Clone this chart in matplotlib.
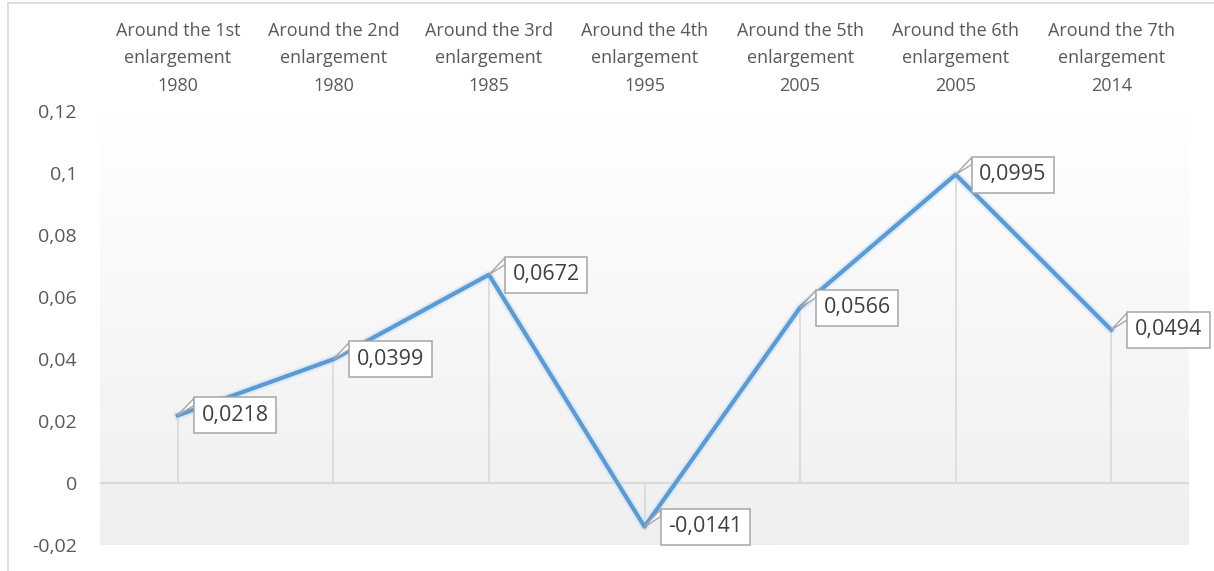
import numpy as np
import matplotlib
matplotlib.use("Agg")
import matplotlib.pyplot as plt
from matplotlib.patches import Polygon
from matplotlib.lines import Line2D
import matplotlib.transforms as mtransforms

# Data
categories = [
    "Around the 1st\nenlargement\n1980",
    "Around the 2nd\nenlargement\n1980",
    "Around the 3rd\nenlargement\n1985",
    "Around the 4th\nenlargement\n1995",
    "Around the 5th\nenlargement\n2005",
    "Around the 6th\nenlargement\n2005",
    "Around the 7th\nenlargement\n2014",
]
values = [0.0218, 0.0399, 0.0672, -0.0141, 0.0566, 0.0995, 0.0494]
y_ticks = [-0.02, 0, 0.02, 0.04, 0.06, 0.08, 0.1, 0.12]
y_tick_labels = ["-0,02", "0", "0,02", "0,04", "0,06", "0,08", "0,1", "0,12"]

plt.rcParams["font.family"] = ["Open Sans", "DejaVu Sans"]
TXT = "#595959"
LINE = "#5b9bd5"
GRID = "#d9d9d9"

W, H = 1214, 571
fig = plt.figure(figsize=(W / 100, H / 100), dpi=100)
ax = fig.add_axes([100 / W, (H - 545) / H, (1189 - 100) / W, (545 - 111) / H])

x = np.arange(len(values))
ax.set_xlim(-0.5, len(values) - 0.5)
ax.set_ylim(-0.02, 0.12)

# gradient fill of the plot area, white on top to light grey at the bottom
grad = np.linspace(0, 1, 256).reshape(-1, 1)
ax.imshow(grad, extent=[0, 1, 0, 1], transform=ax.transAxes, aspect="auto",
          cmap=matplotlib.colors.LinearSegmentedColormap.from_list("g", ["#efefef", "#ffffff"]),
          origin="lower", zorder=0)

for s in ax.spines.values():
    s.set_visible(False)
ax.axhline(0, color=GRID, lw=1.5, zorder=1)

# drop lines
for xi, v in zip(x, values):
    ax.plot([xi, xi], [0, v], color=GRID, lw=1.2, zorder=1)

# series with a soft glow
ax.plot(x, values, color="#cfe2f3", lw=6, alpha=0.6, zorder=2)
ax.plot(x, values, color=LINE, lw=3, zorder=3)

ax.set_yticks(y_ticks)
ax.set_yticklabels(y_tick_labels)
ax.tick_params(axis="y", length=0, pad=16.5, labelsize=14, labelcolor=TXT)
ax.set_xticks([])

# category labels above the plot
for xi, lab in zip(x, categories):
    ax.text(xi, 1.122, lab, transform=ax.get_xaxis_transform(), ha="center", va="center",
            fontsize=13, color=TXT, linespacing=1.68)

# data callouts
for xi, v in zip(x, values):
    lab = f"{v:.4f}".replace(".", ",")
    ax.annotate(lab, xy=(xi, v), xytext=(17, 0), textcoords="offset points",
                ha="left", va="center", fontsize=15.5, color="#404040", zorder=6,
                bbox=dict(boxstyle="square,pad=0.35", fc="white", ec="#a6a6a6", lw=1.1))
    # pointer wedge (offsets in inches from the data point)
    tr = fig.dpi_scale_trans + mtransforms.ScaledTranslation(xi, v, ax.transData)
    wedge = Polygon([[0.0, 0.0], [0.16, 0.17], [0.16, 0.10]], closed=True,
                    fc="white", ec="#a6a6a6", lw=1, transform=tr, zorder=5)
    ax.add_patch(wedge)

# chart area border (left and top)
fig.add_artist(Line2D([8 / W, 8 / W], [0, (H - 3) / H], color=GRID, lw=1.2, transform=fig.transFigure))
fig.add_artist(Line2D([8 / W, 1], [(H - 3) / H, (H - 3) / H], color=GRID, lw=1.2, transform=fig.transFigure))

fig.savefig("out.png", dpi=100)
